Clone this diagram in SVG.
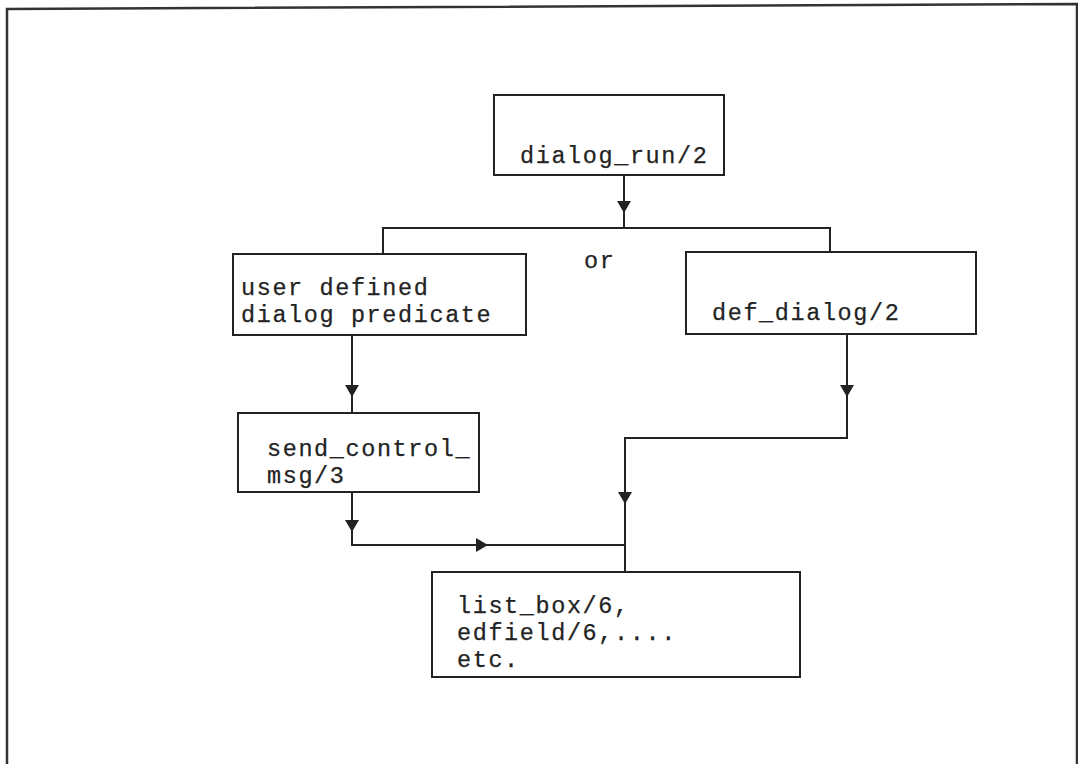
<svg xmlns="http://www.w3.org/2000/svg" width="1078" height="764" viewBox="0 0 1078 764">
  <defs>
    <style>
      .box { fill: #ffffff; stroke: #222222; stroke-width: 2; }
      .lbl { font-family: "Liberation Mono", "Courier New", monospace; font-size: 23.5px; letter-spacing: 1.6px; fill: #232323; stroke: #232323; stroke-width: 0.25px; }
      .wire { fill: none; stroke: #222222; stroke-width: 2; }
      .frame { fill: none; stroke: #333333; stroke-width: 2.5; }
    </style>
    <marker id="tri" viewBox="0 0 12 14" refX="12" refY="7" markerWidth="12" markerHeight="14" markerUnits="userSpaceOnUse" orient="auto">
      <path d="M0,0 L12,7 L0,14 Z" fill="#222222"/>
    </marker>
  </defs>

  <rect width="1078" height="764" fill="#ffffff"/>

  <!-- page frame -->
  <path class="frame" d="M7,764 V9 L1077,4 V764"/>

  <!-- connectors -->
  <g id="connectors">
    <!-- dialog_run down to the branch bar -->
    <path class="wire" d="M624,175 V213" marker-end="url(#tri)"/>
    <path class="wire" d="M624,205 V228"/>
    <!-- branch bar with its two drops -->
    <path class="wire" d="M383,253 V228 H830 V252"/>
    <!-- user defined predicate to send_control_msg -->
    <path class="wire" d="M352,335 V397" marker-end="url(#tri)"/>
    <path class="wire" d="M352,390 V413"/>
    <!-- def_dialog down and across -->
    <path class="wire" d="M847,334 V397" marker-end="url(#tri)"/>
    <path class="wire" d="M847,390 V438 H625 V504"/>
    <path class="wire" d="M625,438 V504" marker-end="url(#tri)"/>
    <path class="wire" d="M625,497 V572"/>
    <!-- send_control_msg down and right -->
    <path class="wire" d="M352,492 V532" marker-end="url(#tri)"/>
    <path class="wire" d="M352,525 V545 H625"/>
    <path class="wire" d="M352,545 H488" marker-end="url(#tri)"/>
  </g>

  <g id="dialog_run">
    <rect class="box" x="494" y="95" width="230" height="80"/>
    <text class="lbl" x="520" y="163">dialog_run/2</text>
  </g>

  <text id="or_label" class="lbl" x="584" y="268">or</text>

  <g id="user_defined">
    <rect class="box" x="233" y="254" width="293" height="81"/>
    <text class="lbl" x="241" y="295">user defined</text>
    <text class="lbl" x="241" y="322">dialog predicate</text>
  </g>

  <g id="def_dialog">
    <rect class="box" x="686" y="252" width="290" height="82"/>
    <text class="lbl" x="712" y="320">def_dialog/2</text>
  </g>

  <g id="send_control_msg">
    <rect class="box" x="238" y="413" width="241" height="79"/>
    <text class="lbl" x="267" y="456">send_control_</text>
    <text class="lbl" x="267" y="483">msg/3</text>
  </g>

  <g id="list_box">
    <rect class="box" x="432" y="572" width="368" height="105"/>
    <text class="lbl" x="457" y="613">list_box/6,</text>
    <text class="lbl" x="457" y="640">edfield/6,....</text>
    <text class="lbl" x="457" y="667">etc.</text>
  </g>
</svg>
